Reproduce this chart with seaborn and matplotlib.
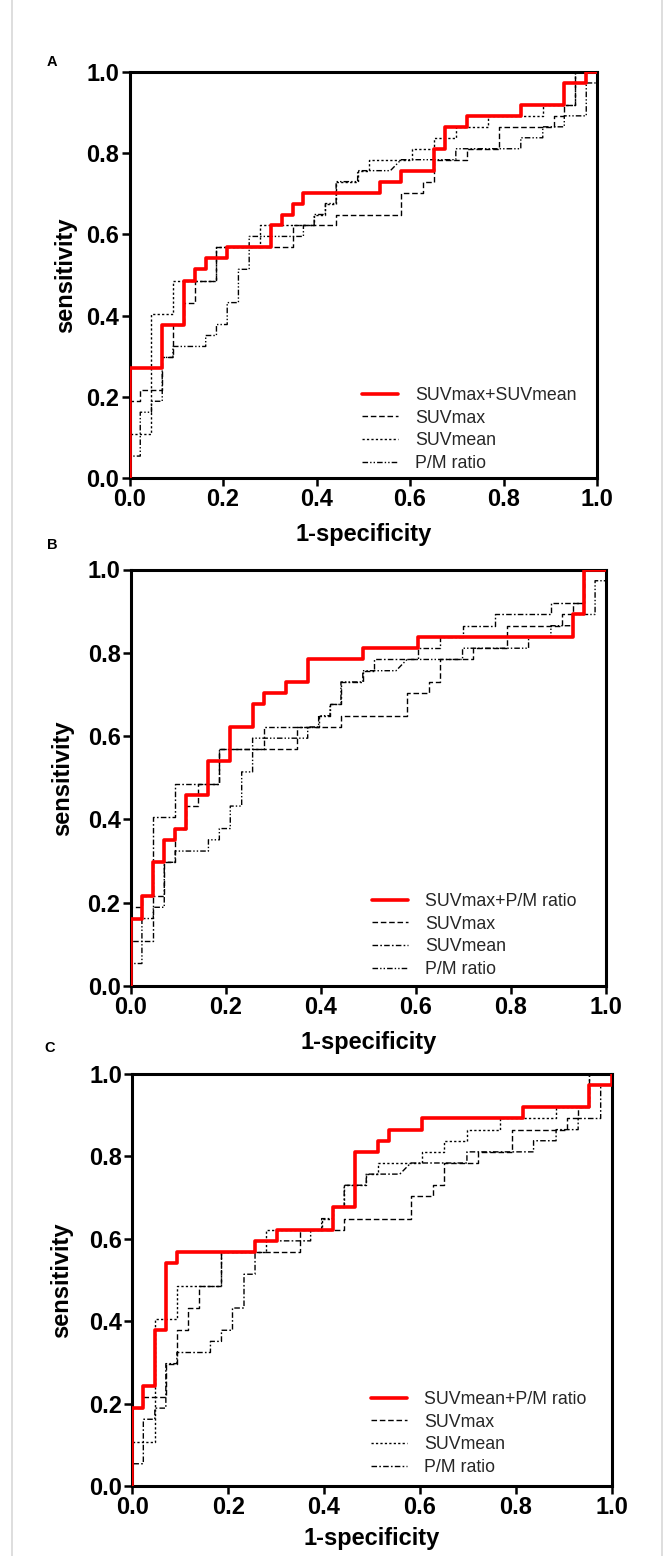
import matplotlib
matplotlib.use("Agg")
import matplotlib.pyplot as plt
import seaborn as sns
from matplotlib.ticker import FormatStrFormatter
from matplotlib.lines import Line2D

# ---------------- data (ROC curve vertices) ----------------
suvmax_fpr = [0, 0, 0.023, 0.023, 0.070, 0.070, 0.093, 0.093, 0.116, 0.116, 0.140, 0.140,
              0.186, 0.186, 0.349, 0.349, 0.442, 0.442, 0.581, 0.581, 0.628, 0.628, 0.651,
              0.651, 0.721, 0.721, 0.791, 0.791, 0.907, 0.907, 0.930, 0.930, 0.953, 0.953, 1.0]
suvmax_tpr = [0, 0.189, 0.189, 0.216, 0.216, 0.297, 0.297, 0.378, 0.378, 0.432, 0.432, 0.486,
              0.486, 0.568, 0.568, 0.622, 0.622, 0.649, 0.649, 0.703, 0.703, 0.730, 0.730,
              0.784, 0.784, 0.811, 0.811, 0.865, 0.865, 0.892, 0.892, 0.919, 0.919, 1.0, 1.0]

suvmean_fpr = [0, 0, 0.047, 0.047, 0.093, 0.093, 0.186, 0.186, 0.279, 0.279, 0.395, 0.395,
               0.419, 0.419, 0.442, 0.442, 0.488, 0.488, 0.512, 0.512, 0.605, 0.605, 0.651,
               0.651, 0.698, 0.698, 0.767, 0.767, 0.884, 0.884, 0.953, 0.953, 1.0]
suvmean_tpr = [0, 0.108, 0.108, 0.405, 0.405, 0.486, 0.486, 0.568, 0.568, 0.622, 0.622, 0.649,
               0.649, 0.676, 0.676, 0.730, 0.730, 0.757, 0.757, 0.784, 0.784, 0.811, 0.811,
               0.838, 0.838, 0.865, 0.865, 0.892, 0.892, 0.919, 0.919, 1.0, 1.0]

pm_fpr = [0, 0, 0.023, 0.023, 0.047, 0.047, 0.070, 0.070, 0.093, 0.093, 0.163, 0.163, 0.186,
          0.186, 0.209, 0.209, 0.233, 0.233, 0.256, 0.256, 0.372, 0.372, 0.395, 0.395, 0.419,
          0.419, 0.442, 0.442, 0.488, 0.488, 0.558, 0.581, 0.698, 0.698, 0.837, 0.837, 0.884,
          0.884, 0.930, 0.930, 0.977, 0.977, 1.0, 1.0]
pm_tpr = [0, 0.054, 0.054, 0.162, 0.162, 0.189, 0.189, 0.297, 0.297, 0.324, 0.324, 0.351, 0.351,
          0.378, 0.378, 0.432, 0.432, 0.514, 0.514, 0.595, 0.595, 0.622, 0.622, 0.649, 0.649,
          0.676, 0.676, 0.730, 0.730, 0.757, 0.757, 0.784, 0.784, 0.811, 0.811, 0.838, 0.838,
          0.865, 0.865, 0.892, 0.892, 0.973, 0.973, 1.0]

a_red_fpr = [0, 0, 0.070, 0.070, 0.116, 0.116, 0.140, 0.140, 0.163, 0.163, 0.209, 0.209, 0.302,
             0.302, 0.326, 0.326, 0.349, 0.349, 0.372, 0.372, 0.535, 0.535, 0.581, 0.581, 0.651,
             0.651, 0.674, 0.674, 0.721, 0.721, 0.837, 0.837, 0.930, 0.930, 0.977, 0.977, 1.0]
a_red_tpr = [0, 0.270, 0.270, 0.378, 0.378, 0.486, 0.486, 0.514, 0.514, 0.541, 0.541, 0.568, 0.568,
             0.622, 0.622, 0.649, 0.649, 0.676, 0.676, 0.703, 0.703, 0.730, 0.730, 0.757, 0.757,
             0.811, 0.811, 0.865, 0.865, 0.892, 0.892, 0.919, 0.919, 0.973, 0.973, 1.0, 1.0]

b_red_fpr = [0, 0, 0.023, 0.023, 0.047, 0.047, 0.070, 0.070, 0.093, 0.093, 0.116, 0.116, 0.163,
             0.163, 0.209, 0.209, 0.256, 0.256, 0.279, 0.279, 0.326, 0.326, 0.372, 0.372, 0.488,
             0.488, 0.605, 0.605, 0.930, 0.930, 0.953, 0.953, 1.0]
b_red_tpr = [0, 0.162, 0.162, 0.216, 0.216, 0.297, 0.297, 0.351, 0.351, 0.378, 0.378, 0.459, 0.459,
             0.541, 0.541, 0.622, 0.622, 0.676, 0.676, 0.703, 0.703, 0.730, 0.730, 0.784, 0.784,
             0.811, 0.811, 0.838, 0.838, 0.892, 0.892, 1.0, 1.0]

c_red_fpr = [0, 0, 0.023, 0.023, 0.047, 0.047, 0.070, 0.070, 0.093, 0.093, 0.256, 0.256, 0.302,
             0.302, 0.419, 0.419, 0.465, 0.465, 0.512, 0.512, 0.535, 0.535, 0.605, 0.605, 0.814,
             0.814, 0.953, 0.953, 1.0, 1.0]
c_red_tpr = [0, 0.189, 0.189, 0.243, 0.243, 0.378, 0.378, 0.541, 0.541, 0.568, 0.568, 0.595, 0.595,
             0.622, 0.622, 0.676, 0.676, 0.811, 0.811, 0.838, 0.838, 0.865, 0.865, 0.892, 0.892,
             0.919, 0.919, 0.973, 0.973, 1.0]

panel_letters = ["A", "B", "C"]
red_labels = ["SUVmax+SUVmean", "SUVmax+P/M ratio", "SUVmean+P/M ratio"]
black_labels = ["SUVmax", "SUVmean", "P/M ratio"]
tick_values = [0.0, 0.2, 0.4, 0.6, 0.8, 1.0]
x_label = "1-specificity"
y_label = "sensitivity"

# ---------------- styling ----------------
sns.set_theme(style="ticks")
plt.rcParams["font.family"] = ["Liberation Sans", "DejaVu Sans"]
NARROW = ["Liberation Sans Narrow", "Liberation Sans", "DejaVu Sans"]

DASH = (0, (4, 2))
DOT = (0, (1.6, 1.6))
DASHDOT = (0, (4, 1.6, 1.2, 1.6))
DASHDOTDOT = (0, (4, 1.5, 1, 1.5, 1, 1.5))

panel_styles = [
    [DASH, DOT, DASHDOTDOT],
    [DASH, DASHDOT, DASHDOTDOT],
    [DASH, DOT, DASHDOT],
]

W, H = 664, 1556
fig = plt.figure(figsize=(W / 100, H / 100), dpi=100)

# axes rectangles in pixels: left, top, right, bottom
rects = [(129.5, 72, 597, 478), (131, 569.5, 606, 986), (132.3, 1074, 611.7, 1486)]
letter_pos = [(52, 62), (52, 545), (50, 1048)]
ylabel_x = [66, 63, 62]
xlabel_y = [535, 1042, 1538]
legend_anchor = [(362, 387), (372, 893), (371, 1391)]

reds = [(a_red_fpr, a_red_tpr), (b_red_fpr, b_red_tpr), (c_red_fpr, c_red_tpr)]
blacks = [(suvmax_fpr, suvmax_tpr), (suvmean_fpr, suvmean_tpr), (pm_fpr, pm_tpr)]

for i in range(3):
    l, t, r, b = rects[i]
    ax = fig.add_axes([l / W, 1 - b / H, (r - l) / W, (b - t) / H])
    handles = []
    rf, rt = reds[i]
    sns.lineplot(x=rf, y=rt, sort=False, estimator=None, ax=ax, color="#ff0000",
                 linewidth=2.6, zorder=5)
    handles.append(Line2D([], [], color="#ff0000", linewidth=2.6))
    for j, (bf, bt) in enumerate(blacks):
        sns.lineplot(x=bf, y=bt, sort=False, estimator=None, ax=ax, color="black",
                     linewidth=1.0, linestyle=panel_styles[i][j], zorder=3)
        handles.append(Line2D([], [], color="black", linewidth=1.0,
                              linestyle=panel_styles[i][j]))
    ax.set_xlim(0, 1)
    ax.set_ylim(0, 1)
    ax.set_xticks(tick_values)
    ax.set_yticks(tick_values)
    ax.xaxis.set_major_formatter(FormatStrFormatter("%.1f"))
    ax.yaxis.set_major_formatter(FormatStrFormatter("%.1f"))
    ax.tick_params(axis="both", direction="out", length=6, width=1.8, pad=1.5,
                   labelsize=17, color="black", labelcolor="black")
    for lab in ax.get_xticklabels() + ax.get_yticklabels():
        lab.set_fontweight("bold")
        lab.set_family(NARROW)
    for s in ax.spines.values():
        s.set_visible(True)
        s.set_linewidth(2.2)
        s.set_color("black")
    ax.set_xlabel(x_label, fontsize=17, fontweight="bold", color="black", family=NARROW)
    ax.set_ylabel(y_label, fontsize=17, fontweight="bold", color="black", family=NARROW)
    ax.yaxis.set_label_coords((ylabel_x[i] - l) / (r - l), 0.5)
    ax.xaxis.set_label_coords(0.5, (b - xlabel_y[i]) / (b - t))
    ax.xaxis.label.set_va("center")
    ax.yaxis.label.set_va("center")
    lx, ly = legend_anchor[i]
    ax.legend(handles, [red_labels[i]] + black_labels, loc="upper left",
              bbox_to_anchor=((lx - l) / (r - l), (b - ly) / (b - t)),
              frameon=False, fontsize=12.8, handlelength=2.0, handletextpad=1.0,
              labelspacing=0.32, borderpad=0, borderaxespad=0)
    fig.text(letter_pos[i][0] / W, 1 - letter_pos[i][1] / H, panel_letters[i],
             fontsize=10.5, fontweight="bold", ha="center", va="center", color="black")

# light frame lines at the sides of the figure
fig.add_artist(Line2D([12 / W, 12 / W], [0, 1], color="#d8d8d8", linewidth=1.2))
fig.add_artist(Line2D([662 / W, 662 / W], [0, 1], color="#d8d8d8", linewidth=1.2))

fig.savefig("out.png", dpi=100, facecolor="white")
